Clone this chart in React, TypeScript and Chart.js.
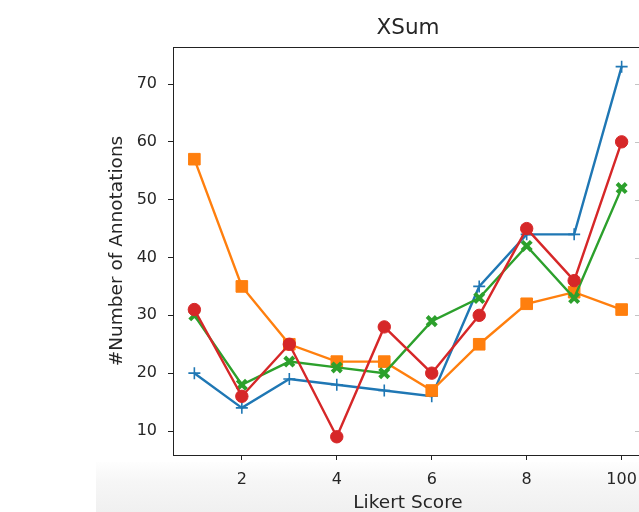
import React, { useEffect, useRef } from 'react';
import { Chart, registerables } from 'chart.js';

Chart.register(...registerables);

const likertScores = [1, 2, 3, 4, 5, 6, 7, 8, 9, 10];
const seriesBlue = [20, 14, 19, 18, 17, 16, 35, 44, 44, 73];
const seriesOrange = [57, 35, 25, 22, 22, 17, 25, 32, 34, 31];
const seriesGreen = [30, 18, 22, 21, 20, 29, 33, 42, 33, 52];
const seriesRed = [31, 16, 25, 9, 28, 20, 30, 45, 36, 60];
const xTickValues = [2, 4, 6, 8, 10];
const xTickLabels = ['2', '4', '6', '8', '100'];
const yTickValues = [10, 20, 30, 40, 50, 60, 70];
const chartTitle = 'XSum';
const xAxisTitle = 'Likert Score';
const yAxisTitle = '#Number of Annotations';

const FONT = "'DejaVu Sans', sans-serif";
const TEXT = '#262626';

const toPoints = (vals: number[]) => vals.map((v, i) => ({ x: likertScores[i], y: v }));

const decorPlugin = {
  id: 'decor',
  afterDraw(chart: any) {
    const { ctx, chartArea, scales } = chart;
    ctx.save();
    ctx.strokeStyle = '#222';
    ctx.lineWidth = 1;
    ctx.beginPath();
    ctx.moveTo(chartArea.left, Math.round(chartArea.top) + 0.5);
    ctx.lineTo(chartArea.right, Math.round(chartArea.top) + 0.5);
    ctx.moveTo(Math.round(chartArea.right) + 0.5, chartArea.top);
    ctx.lineTo(Math.round(chartArea.right) + 0.5, chartArea.bottom);
    ctx.stroke();
    // faint ticks at the right edge
    ctx.strokeStyle = '#c4c4c4';
    ctx.beginPath();
    yTickValues.forEach((v) => {
      const y = Math.round(scales.y.getPixelForValue(v)) + 0.5;
      ctx.moveTo(635, y);
      ctx.lineTo(639, y);
    });
    ctx.stroke();
    // title
    ctx.fillStyle = TEXT;
    ctx.font = `21.5px ${FONT}`;
    ctx.textAlign = 'center';
    ctx.textBaseline = 'middle';
    ctx.fillText(chartTitle, (chartArea.left + chartArea.right) / 2, 28);
    ctx.restore();
  },
};

export default function App() {
  const ref = useRef<HTMLCanvasElement | null>(null);

  useEffect(() => {
    document.body.style.margin = '0';
    document.body.style.overflow = 'hidden';
    const canvas = ref.current!;
    const chart = new Chart(canvas, {
      type: 'line',
      data: {
        datasets: [
          {
            data: toPoints(seriesBlue),
            borderColor: '#1f77b4',
            backgroundColor: '#1f77b4',
            borderWidth: 2.4,
            pointStyle: 'cross',
            pointRadius: 6,
            pointBorderWidth: 1.6,
            pointBorderColor: '#1f77b4',
            order: 3,
          },
          {
            data: toPoints(seriesOrange),
            borderColor: '#ff7f0e',
            backgroundColor: '#ff7f0e',
            borderWidth: 2.4,
            pointStyle: 'rect',
            pointRadius: 8.2,
            pointBorderWidth: 1,
            pointBackgroundColor: '#ff7f0e',
            pointBorderColor: '#ff7f0e',
            order: 2,
          },
          {
            data: toPoints(seriesGreen),
            borderColor: '#2ca02c',
            backgroundColor: '#2ca02c',
            borderWidth: 2.4,
            pointStyle: 'crossRot',
            pointRadius: 6.5,
            pointBorderWidth: 4,
            pointBorderColor: '#2ca02c',
            order: 1,
          },
          {
            data: toPoints(seriesRed),
            borderColor: '#d62728',
            backgroundColor: '#d62728',
            borderWidth: 2.4,
            pointStyle: 'circle',
            pointRadius: 6.2,
            pointBorderWidth: 1,
            pointBackgroundColor: '#d62728',
            pointBorderColor: '#d62728',
            order: 0,
          },
        ],
      },
      options: {
        animation: false,
        responsive: false,
        events: [],
        layout: { padding: { top: 47, right: 37, left: 0, bottom: 0 } },
        plugins: {
          legend: { display: false },
          title: { display: false },
          tooltip: { enabled: false },
        },
        scales: {
          x: {
            type: 'linear',
            min: 0.55,
            max: 10.45,
            afterBuildTicks: (scale: any) => {
              scale.ticks = xTickValues.map((v) => ({ value: v }));
            },
            afterFit: (scale: any) => {
              scale.height = 57;
            },
            grid: {
              display: true,
              drawOnChartArea: false,
              drawTicks: true,
              tickLength: 5,
              tickColor: '#222',
              tickWidth: 1,
            },
            border: { display: true, color: '#222', width: 1 },
            ticks: {
              autoSkip: false,
              maxRotation: 0,
              padding: 10,
              color: TEXT,
              font: { family: FONT, size: 16 },
              callback: (value: any) => {
                const i = xTickValues.indexOf(Number(value));
                return i >= 0 ? xTickLabels[i] : '';
              },
            },
            title: {
              display: true,
              text: xAxisTitle,
              color: TEXT,
              font: { family: FONT, size: 18.5, lineHeight: 1.0 },
              padding: { top: 0, bottom: 0 },
            },
          },
          y: {
            type: 'linear',
            min: 5.85,
            max: 76.4,
            afterBuildTicks: (scale: any) => {
              scale.ticks = yTickValues.map((v) => ({ value: v }));
            },
            afterFit: (scale: any) => {
              scale.width = 173;
            },
            grid: {
              display: true,
              drawOnChartArea: false,
              drawTicks: true,
              tickLength: 5,
              tickColor: '#222',
              tickWidth: 1,
            },
            border: { display: true, color: '#222', width: 1 },
            ticks: {
              autoSkip: false,
              padding: 11,
              color: TEXT,
              font: { family: FONT, size: 16 },
            },
            title: {
              display: true,
              text: yAxisTitle,
              color: TEXT,
              font: { family: FONT, size: 18.5, lineHeight: 1.2 },
              padding: { top: 106, bottom: 0 },
            },
          },
        },
      },
      plugins: [decorPlugin],
    } as any);
    return () => chart.destroy();
  }, []);

  return (
    <div
      style={{
        position: 'fixed',
        left: 0,
        top: 0,
        width: 639,
        height: 512,
        overflow: 'hidden',
        background: '#ffffff',
      }}
    >
      <div
        style={{
          position: 'absolute',
          left: 96,
          top: 462,
          width: 543,
          height: 50,
          background: 'linear-gradient(to bottom, #fefefe 0%, #f6f6f6 40%, #f0f0f0 100%)',
        }}
      />
      <canvas
        ref={ref}
        width={680}
        height={512}
        style={{ position: 'absolute', left: 0, top: 0, width: 680, height: 512 }}
      />
    </div>
  );
}
